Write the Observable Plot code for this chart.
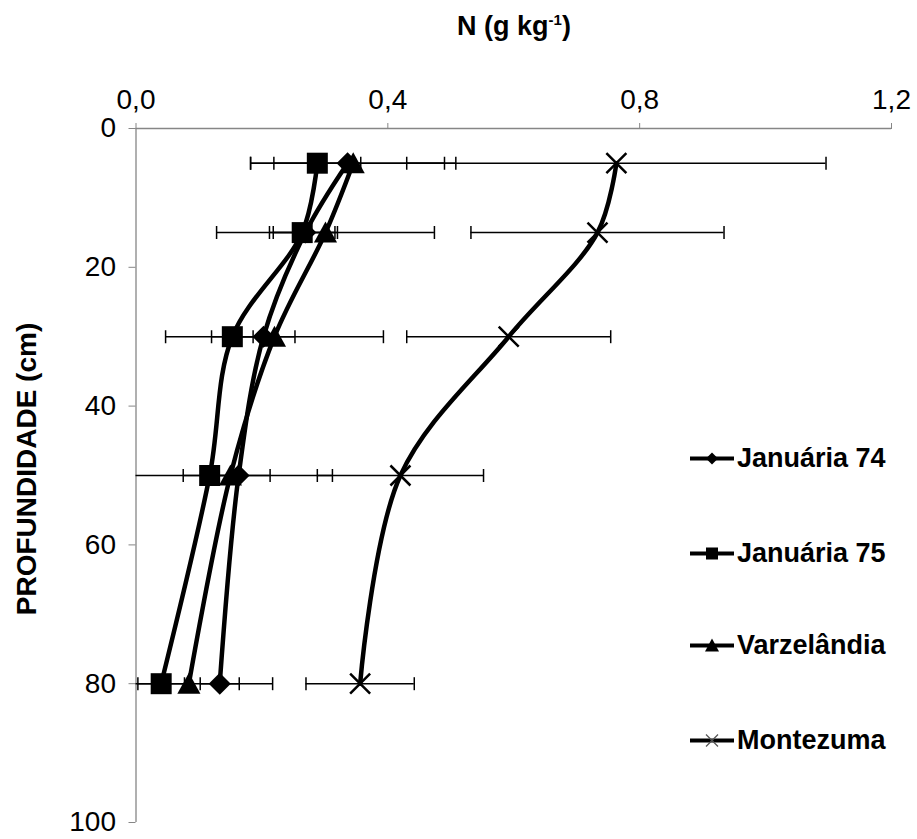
<!DOCTYPE html>
<html>
<head>
<meta charset="utf-8">
<script src="https://cdn.jsdelivr.net/npm/d3@7"></script>
<script src="https://cdn.jsdelivr.net/npm/@observablehq/plot@0.6"></script>
<style>
  html, body { margin: 0; padding: 0; background: #fff; }
  #wrap { position: relative; width: 917px; height: 839px; font-family: "Liberation Sans", Arial, sans-serif; }
  #xtitle { position: absolute; left: 0; width: 1028px; top: 9px; text-align: center; font-weight: bold; font-size: 27px; line-height: 34px; color: #000; }
  #xtitle sup { font-size: 15px; line-height: 0; }
  #ytitle { position: absolute; left: 27px; top: 469px; transform: translate(-50%, -50%) rotate(-90deg); white-space: nowrap; font-weight: bold; font-size: 28px; color: #000; }
  #legend { position: absolute; left: 690px; top: 0; }
  .lg { position: absolute; left: 0; display: flex; align-items: center; white-space: nowrap; font-weight: bold; font-size: 27px; color: #000; transform: translateY(-50%); }
  .lg svg { display: block; margin-right: 3px; }
</style>
</head>
<body>
<div id="wrap">
  <div id="chart"></div>
  <div id="xtitle">N (g kg<sup>-1</sup>)</div>
  <div id="ytitle">PROFUNDIDADE (cm)</div>
  <div id="legend"></div>
</div>
<script>
// ---- data ----
const depths = [5, 15, 30, 50, 80];
const seriesNames = ["Januária 74", "Januária 75", "Varzelândia", "Montezuma"];
const januaria74 = [0.336, 0.269, 0.2025, 0.163, 0.133];
const januaria74Err = [0.154, 0.051, 0.050, 0.050, 0.031];
const januaria75 = [0.288, 0.264, 0.153, 0.117, 0.040];
const januaria75Err = [0.069, 0.052, 0.033, 0.042, 0.037];
const varzelandia = [0.345, 0.301, 0.220, 0.150, 0.084];
const varzelandiaErr = [0.163, 0.173, 0.173, 0.162, 0.133];
const montezuma = [0.763, 0.733, 0.592, 0.420, 0.356];
const montezumaErr = [0.333, 0.201, 0.162, 0.132, 0.086];
const xTicks = [0, 0.4, 0.8, 1.2];
const yTicks = [0, 20, 40, 60, 80, 100];

const values = [januaria74, januaria75, varzelandia, montezuma];
const errors = [januaria74Err, januaria75Err, varzelandiaErr, montezumaErr];
const markerNames = ["diamond", "square", "triangle", "x"];

const rows = [];
seriesNames.forEach((s, k) => {
  depths.forEach((d, i) => {
    rows.push({series: s, marker: markerNames[k], depth: d, n: values[k][i],
      lo: values[k][i] - errors[k][i], hi: values[k][i] + errors[k][i]});
  });
});

// custom symbols (size = r*r*PI in Plot)
const rOf = size => Math.sqrt(size / Math.PI);
const symbols = {
  diamond: {draw(c, size) { const r = rOf(size); c.moveTo(0, -r); c.lineTo(r, 0); c.lineTo(0, r); c.lineTo(-r, 0); c.closePath(); }},
  square: {draw(c, size) { const r = rOf(size); c.rect(-r, -r, 2 * r, 2 * r); }},
  triangle: {draw(c, size) { const r = rOf(size); c.moveTo(0, -r * 1.05); c.lineTo(r * 1.1, r * 0.95); c.lineTo(-r * 1.1, r * 0.95); c.closePath(); }},
  x: {draw(c, size) { const r = rOf(size); c.moveTo(-r, -r); c.lineTo(r, r); c.moveTo(r, -r); c.lineTo(-r, r); }},
  cap: {draw(c, size) { const r = rOf(size); c.moveTo(0, -r); c.lineTo(0, r); }}
};

const axisGray = "#868686";
const W = 917, H = 839;

const chart = Plot.plot({
  width: W, height: H,
  marginLeft: 135.5, marginRight: 26, marginTop: 128, marginBottom: 17,
  style: {fontFamily: "'Liberation Sans', Arial, sans-serif", color: "#000", background: "#fff", overflow: "visible"},
  x: {domain: [0, 1.2]},
  y: {domain: [0, 100], reverse: true},
  marks: [
    Plot.axisX({anchor: "top", ticks: xTicks, tickSize: 6, tickPadding: 14, fontSize: 28,
      stroke: axisGray, label: null, tickFormat: d => d.toFixed(1).replace(".", ",")}),
    Plot.axisY({anchor: "left", ticks: yTicks, tickSize: 7, tickPadding: 13, fontSize: 28,
      stroke: axisGray, label: null, tickFormat: d => String(d)}),
    Plot.ruleY([0], {stroke: axisGray, strokeWidth: 1.3}),
    Plot.ruleX([0], {stroke: axisGray, strokeWidth: 1.3}),
    // error bars
    Plot.ruleY(rows, {y: "depth", x1: "lo", x2: "hi", stroke: "#000", strokeWidth: 1.5, clip: true}),
    Plot.dot(rows, {x: "lo", y: "depth", symbol: symbols.cap, r: 6.5, stroke: "#000", strokeWidth: 1.5, clip: true}),
    Plot.dot(rows, {x: "hi", y: "depth", symbol: symbols.cap, r: 6.5, stroke: "#000", strokeWidth: 1.5, clip: true}),
    // lines
    Plot.line(rows, {x: "n", y: "depth", z: "series", curve: "catmull-rom", stroke: "#000", strokeWidth: 4.5}),
    // markers
    Plot.dot(rows.filter(d => d.marker === "diamond"), {x: "n", y: "depth", symbol: symbols.diamond, r: 11, fill: "#000", stroke: "none"}),
    Plot.dot(rows.filter(d => d.marker === "square"), {x: "n", y: "depth", symbol: symbols.square, r: 10.5, fill: "#000", stroke: "none"}),
    Plot.dot(rows.filter(d => d.marker === "triangle"), {x: "n", y: "depth", symbol: symbols.triangle, r: 10.5, fill: "#000", stroke: "none"}),
    Plot.dot(rows.filter(d => d.marker === "x"), {x: "n", y: "depth", symbol: symbols.x, r: 10, stroke: "#000", strokeWidth: 2.5, fill: "none"})
  ]
});
document.getElementById("chart").appendChild(chart);

// legend (HTML)
const legendY = [458, 553, 645, 740];
const legend = document.getElementById("legend");
seriesNames.forEach((s, k) => {
  const row = document.createElement("div");
  row.className = "lg";
  row.style.top = legendY[k] + "px";
  const m = markerNames[k];
  let mk = "";
  if (m === "diamond") mk = '<path d="M22,6 L28,12 L22,18 L16,12 Z" fill="#000"/>';
  if (m === "square") mk = '<rect x="16" y="6" width="12" height="12" fill="#000"/>';
  if (m === "triangle") mk = '<path d="M22,5 L29,18 L15,18 Z" fill="#000"/>';
  if (m === "x") mk = '<path d="M16,6 L28,18 M28,6 L16,18" stroke="#555" stroke-width="1.2" fill="none"/>';
  row.innerHTML = '<svg width="44" height="24"><line x1="0" y1="12" x2="44" y2="12" stroke="#000" stroke-width="4"/>' + mk + '</svg><span>' + s + '</span>';
  legend.appendChild(row);
});
</script>
</body>
</html>
